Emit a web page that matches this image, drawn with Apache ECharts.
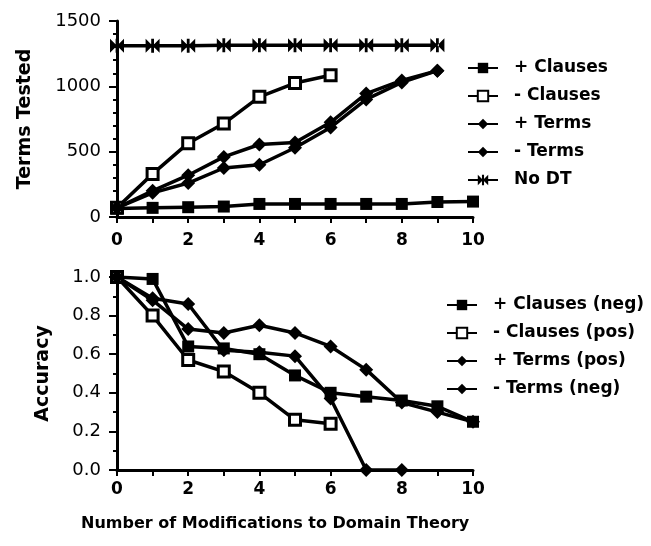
<!DOCTYPE html>
<html>
<head>
<meta charset="utf-8">
<script src="https://cdn.jsdelivr.net/npm/echarts@6/dist/echarts.min.js"></script>
<style>
  html, body { margin: 0; padding: 0; background: #fff; }
  #chart { width: 651px; height: 546px; }
</style>
</head>
<body>
<div id="chart"></div>
<script>
// number of modifications (x values)
const mods = [0, 1, 2, 3, 4, 5, 6, 7, 8, 9, 10];

// top panel: terms tested
const plusClauses = [65, 70, 75, 80, 100, 100, 100, 100, 100, 115, 118];
const minusClauses = [70, 330, 565, 715, 920, 1025, 1085];
const plusTerms = [70, 200, 320, 460, 555, 570, 725, 945, 1045, 1120];
const minusTerms = [70, 185, 260, 375, 400, 530, 685, 900, 1030, 1120];
const noDT = [1310, 1310, 1310, 1315, 1315, 1315, 1315, 1315, 1315, 1315];

// bottom panel: accuracy
const accPlusClauses = [1.0, 0.99, 0.64, 0.63, 0.60, 0.49, 0.40, 0.38, 0.36, 0.33, 0.25];
const accMinusClauses = [1.0, 0.80, 0.57, 0.51, 0.40, 0.26, 0.24];
const accPlusTerms = [1.0, 0.89, 0.86, 0.62, 0.61, 0.59, 0.37, 0.0, 0.0];
const accMinusTerms = [1.0, 0.88, 0.73, 0.71, 0.75, 0.71, 0.64, 0.52, 0.35, 0.30, 0.25];

const topTicks = [0, 500, 1000, 1500];
const botTicks = [0.0, 0.2, 0.4, 0.6, 0.8, 1.0];

const pairs = arr => arr.map((v, i) => [mods[i], v]);

const heavy = "DejaVu Sans";
const bowtie = "path://M0,0L10,5L0,10ZM20,0L10,5L20,10ZM8,0L12,0L12,10L8,10Z";

function xAxisFor(idx, margin) {
  return {
    type: "value", gridIndex: idx, min: 0, max: 10, interval: 1,
    axisLine: { show: true, onZero: false, lineStyle: { color: "#000", width: 3 } },
    axisTick: { show: true, length: 6, lineStyle: { color: "#000", width: 2 } },
    splitLine: { show: false },
    axisLabel: {
      color: "#000", fontFamily: heavy, fontWeight: "bold", fontSize: 17, margin: margin,
      formatter: v => (v % 2 === 0 ? String(v) : "")
    }
  };
}

function lineSeries(name, data, idx, symbol, size, fill) {
  return {
    name: name, type: "line", xAxisIndex: idx, yAxisIndex: idx,
    data: pairs(data), symbol: symbol, symbolSize: size, showSymbol: true,
    lineStyle: { color: "#000", width: 3.5 },
    itemStyle: { color: fill, borderColor: "#000", borderWidth: fill === "#fff" ? 3 : 0 },
    animation: false
  };
}

const legendText = {
  color: "#000", fontFamily: heavy, fontWeight: "bold", fontSize: 17, lineHeight: 18,
  padding: [0, 0, 0, 11]
};

const chart = echarts.init(document.getElementById("chart"));
const option = {
  backgroundColor: "#fff",
  grid: [
    { left: 117, top: 21, width: 356, height: 196 },
    { left: 117, top: 277, width: 356, height: 193 }
  ],
  xAxis: [xAxisFor(0, 15), xAxisFor(1, 11)],
  yAxis: [
    {
      type: "value", gridIndex: 0, min: 0, max: 1500, interval: 500,
      name: "Terms Tested", nameLocation: "middle", nameGap: 82,
      nameTextStyle: { color: "#000", fontFamily: heavy, fontWeight: "bold", fontSize: 19 },
      axisLine: { show: true, lineStyle: { color: "#000", width: 3 } },
      axisTick: { show: true, length: 8, lineStyle: { color: "#000", width: 2 } },
      minorTick: { show: true, splitNumber: 5, length: 4, lineStyle: { color: "#000", width: 2 } },
      splitLine: { show: false },
      axisLabel: { color: "#000", fontFamily: heavy, fontSize: 18, margin: 16,
        formatter: v => (topTicks.includes(v) ? String(v) : "") }
    },
    {
      type: "value", gridIndex: 1, min: 0, max: 1, interval: 0.2,
      name: "Accuracy", nameLocation: "middle", nameGap: 64,
      nameTextStyle: { color: "#000", fontFamily: heavy, fontWeight: "bold", fontSize: 19 },
      axisLine: { show: true, lineStyle: { color: "#000", width: 3 } },
      axisTick: { show: true, length: 8, lineStyle: { color: "#000", width: 2 } },
      minorTick: { show: true, splitNumber: 2, length: 4, lineStyle: { color: "#000", width: 2 } },
      splitLine: { show: false },
      axisLabel: { color: "#000", fontFamily: heavy, fontSize: 18, margin: 16,
        formatter: v => botTicks.find(t => Math.abs(t - v) < 1e-6) !== undefined ? v.toFixed(1) : "" }
    }
  ],
  legend: [
    {
      left: 462, top: 54, orient: "vertical", itemGap: 10, itemWidth: 30, itemHeight: 13,
      textStyle: legendText,
      data: ["+ Clauses", "- Clauses", "+ Terms", "- Terms", "No DT"]
    },
    {
      left: 441, top: 291, orient: "vertical", itemGap: 10, itemWidth: 30, itemHeight: 13,
      textStyle: legendText,
      data: ["+ Clauses (neg)", "- Clauses (pos)", "+ Terms (pos)", "- Terms (neg)"]
    }
  ],
  title: {
    text: "Number of Modifications to Domain Theory",
    left: 76, top: 511,
    textStyle: { color: "#000", fontFamily: heavy, fontWeight: "bold", fontSize: 16 }
  },
  series: [
    lineSeries("+ Clauses", plusClauses, 0, "rect", 12, "#000"),
    lineSeries("- Clauses", minusClauses, 0, "rect", 11, "#fff"),
    lineSeries("+ Terms", plusTerms, 0, "diamond", 14, "#000"),
    lineSeries("- Terms", minusTerms, 0, "diamond", 14, "#000"),
    lineSeries("No DT", noDT, 0, bowtie, 14, "#000"),
    lineSeries("+ Clauses (neg)", accPlusClauses, 1, "rect", 12, "#000"),
    lineSeries("- Clauses (pos)", accMinusClauses, 1, "rect", 11, "#fff"),
    lineSeries("+ Terms (pos)", accPlusTerms, 1, "diamond", 14, "#000"),
    lineSeries("- Terms (neg)", accMinusTerms, 1, "diamond", 14, "#000")
  ]
};
chart.setOption(option);
</script>
</body>
</html>
